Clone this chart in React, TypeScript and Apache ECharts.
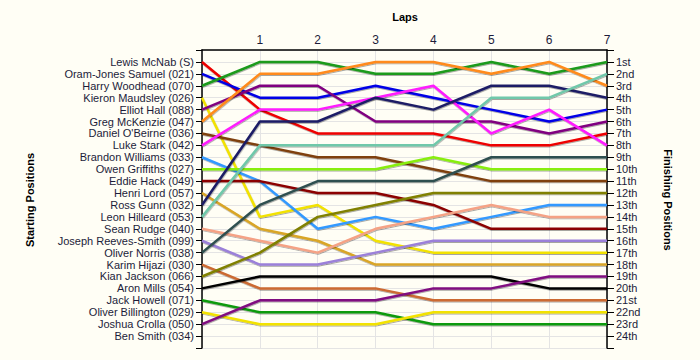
import React, { useEffect, useRef } from "react";
import * as echarts from "echarts";

const laps = [0, 1, 2, 3, 4, 5, 6, 7];

const startingNames = [
  "Lewis McNab (S)", "Oram-Jones Samuel (021)", "Harry Woodhead (070)", "Kieron Maudsley (026)",
  "Elliot Hall (088)", "Greg McKenzie (047)", "Daniel O'Beirne (036)", "Luke Stark (042)",
  "Brandon Williams (033)", "Owen Griffiths (027)", "Eddie Hack (049)", "Henri Lord (057)",
  "Ross Gunn (032)", "Leon Hilleard (053)", "Sean Rudge (040)", "Joseph Reeves-Smith (099)",
  "Oliver Norris (038)", "Karim Hijazi (030)", "Kian Jackson (066)", "Aron Mills (054)",
  "Jack Howell (071)", "Oliver Billington (029)", "Joshua Crolla (050)", "Ben Smith (034)",
];

const finishingLabels = [
  "1st", "2nd", "3rd", "4th", "5th", "6th", "7th", "8th", "9th", "10th", "11th", "12th",
  "13th", "14th", "15th", "16th", "17th", "18th", "19th", "20th", "21st", "22nd", "23rd", "24th",
];

// positions at laps 0..7
const lewisMcNab = [1, 5, 7, 7, 7, 8, 8, 7];
const oramJones = [2, 4, 4, 3, 4, 5, 6, 5];
const harryWoodhead = [3, 1, 1, 2, 2, 1, 2, 1];
const kieronMaudsley = [4, 14, 13, 16, 17, 17, 17, 17];
const elliotHall = [5, 3, 3, 6, 6, 6, 7, 6];
const gregMcKenzie = [6, 2, 2, 1, 1, 2, 1, 3];
const danielOBeirne = [7, 8, 9, 9, 10, 11, 11, 11];
const lukeStark = [8, 5, 5, 4, 3, 7, 5, 8];
const brandonWilliams = [9, 11, 15, 14, 15, 14, 13, 13];
const owenGriffiths = [10, 10, 10, 10, 9, 10, 10, 10];
const eddieHack = [11, 11, 12, 12, 13, 15, 15, 15];
const henriLord = [12, 15, 16, 18, 18, 18, 18, 18];
const rossGunn = [13, 6, 6, 4, 5, 3, 3, 4];
const leonHilleard = [14, 8, 8, 8, 8, 4, 4, 2];
const seanRudge = [15, 16, 17, 15, 14, 13, 14, 14];
const josephReevesSmith = [16, 18, 18, 17, 16, 16, 16, 16];
const oliverNorris = [17, 13, 11, 11, 11, 9, 9, 9];
const karimHijazi = [18, 20, 20, 20, 21, 21, 21, 21];
const kianJackson = [19, 17, 14, 13, 12, 12, 12, 12];
const aronMills = [20, 19, 19, 19, 19, 19, 20, 20];
const jackHowell = [21, 22, 22, 22, 23, 23, 23, 23];
const oliverBillington = [22, 23, 23, 23, 22, 22, 22, 22];
const joshuaCrolla = [23, 21, 21, 21, 20, 20, 19, 19];

const driverPositions = [
  lewisMcNab, oramJones, harryWoodhead, kieronMaudsley, elliotHall, gregMcKenzie,
  danielOBeirne, lukeStark, brandonWilliams, owenGriffiths, eddieHack, henriLord,
  rossGunn, leonHilleard, seanRudge, josephReevesSmith, oliverNorris, karimHijazi,
  kianJackson, aronMills, jackHowell, oliverBillington, joshuaCrolla,
];

const driverColors = [
  "#ee0000", "#0000e6", "#1a9a1a", "#f2e200", "#800080", "#ff8a1a",
  "#7f3f0f", "#ff1aff", "#3399ff", "#88ee11", "#8b0000", "#d9a526",
  "#1e1e66", "#6fc8aa", "#f5a285", "#9b80d9", "#2f4f4f", "#cc6a33",
  "#808000", "#000000", "#0f9a0f", "#f2e200", "#800a80",
];

const textColor = "#1c1c3a";
const font = "Liberation Sans, Arial, sans-serif";

export default function App() {
  const ref = useRef<HTMLDivElement>(null);
  useEffect(() => {
    if (!ref.current) return;
    const chart = echarts.init(ref.current, undefined, { renderer: "svg" });
    const series = driverPositions.map((pos, i) => ({
      type: "line",
      name: startingNames[i],
      data: laps.map((l, k) => [l, pos[k]]),
      symbol: "none",
      lineStyle: {
        color: driverColors[i],
        width: 2.5,
        shadowColor: "rgba(0,0,0,0.35)",
        shadowBlur: 1,
        shadowOffsetX: 0.5,
        shadowOffsetY: 1,
      },
      itemStyle: { color: driverColors[i] },
      emphasis: { disabled: true },
      silent: true,
    }));
    chart.setOption({
      animation: false,
      backgroundColor: "#fffef5",
      grid: { left: 202, right: 93, top: 50, bottom: 12, containLabel: false },
      xAxis: {
        type: "value",
        position: "top",
        min: 0,
        max: 7,
        interval: 1,
        axisLine: { show: true, lineStyle: { color: "#000", width: 1.5 } },
        axisTick: { show: false },
        axisLabel: {
          margin: 4,
          fontFamily: font,
          fontSize: 12,
          color: textColor,
          formatter: (v: number) => (v === 0 ? "" : String(v)),
        },
        splitLine: { show: true, lineStyle: { color: "#e4e4e4", width: 1 } },
      },
      yAxis: [
        {
          type: "value",
          position: "left",
          inverse: true,
          min: 0,
          max: 25,
          interval: 1,
          axisLine: { show: true, lineStyle: { color: "#000", width: 1.5 } },
          axisTick: { show: true, length: 6, lineStyle: { color: "#000" } },
          axisLabel: {
            margin: 8,
            fontFamily: font,
            fontSize: 11,
            lineHeight: 11,
            color: textColor,
            formatter: (v: number) => startingNames[v - 1] ?? "",
          },
          splitLine: { show: true, lineStyle: { color: "#e4e4e4", width: 1 } },
        },
        {
          type: "value",
          position: "right",
          inverse: true,
          min: 0,
          max: 25,
          interval: 1,
          axisLine: { show: true, lineStyle: { color: "#000", width: 1.5 } },
          axisTick: { show: true, length: 7, lineStyle: { color: "#000" } },
          axisLabel: {
            margin: 9,
            fontFamily: font,
            fontSize: 11,
            lineHeight: 11,
            color: textColor,
            formatter: (v: number) => finishingLabels[v - 1] ?? "",
          },
          splitLine: { show: false },
        },
      ],
      graphic: [
        {
          type: "text",
          x: 405,
          y: 17,
          style: {
            text: "Laps",
            fontFamily: font,
            fontSize: 11,
            fontWeight: "bold",
            fill: "#000",
            align: "center",
            verticalAlign: "middle",
          },
        },
        {
          type: "text",
          x: 30,
          y: 200,
          rotation: Math.PI / 2,
          style: {
            text: "Starting Positions",
            fontFamily: font,
            fontSize: 11,
            fontWeight: "bold",
            fill: "#000",
            align: "center",
            verticalAlign: "middle",
          },
        },
        {
          type: "text",
          x: 668,
          y: 200,
          rotation: -Math.PI / 2,
          style: {
            text: "Finishing Positions",
            fontFamily: font,
            fontSize: 11,
            fontWeight: "bold",
            fill: "#000",
            align: "center",
            verticalAlign: "middle",
          },
        },
      ],
      series,
    });
    return () => chart.dispose();
  }, []);
  return (
    <div
      ref={ref}
      style={{ position: "absolute", left: 0, top: 0, width: 700, height: 360 }}
    />
  );
}
